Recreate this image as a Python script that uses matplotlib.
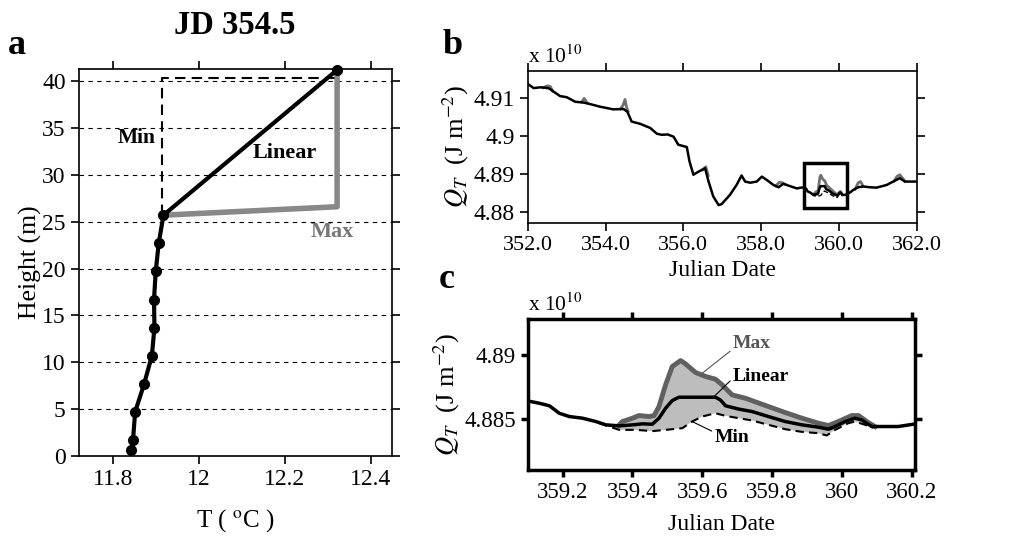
import numpy as np
import matplotlib
matplotlib.use('Agg')
import matplotlib.pyplot as plt
from matplotlib.patches import Rectangle
from matplotlib.ticker import FixedLocator, FuncFormatter

plt.rcParams['font.family'] = ['Liberation Serif', 'DejaVu Serif']
plt.rcParams['mathtext.fontset'] = 'stix'
plt.rcParams['font.size'] = 14

# temperature profile at JD 354.5
height = [0.6, 1.7, 4.7, 7.7, 10.7, 13.7, 16.7, 19.7, 22.7, 25.7, 41.2]
temp = [11.842, 11.846, 11.851, 11.872, 11.890, 11.896, 11.895, 11.899,
        11.906, 11.917, 12.322]
max_h = [25.7, 26.6, 41.2]
max_t = [11.917, 12.322, 12.322]
min_h = [25.7, 40.3, 40.3]
min_t = [11.914, 11.914, 12.322]

# heat content, linear interpolation (units of 1e10 J m-2)
jd_lin = [352.00, 352.15, 352.32, 352.45, 352.55, 352.66, 352.83, 353.00,
          353.22, 353.43, 353.60, 353.86, 354.20, 354.46, 354.56, 354.67,
          354.89, 355.15, 355.32, 355.45, 355.60, 355.75, 355.87, 356.05,
          356.09, 356.16, 356.26, 356.39, 356.56, 356.65, 356.77, 356.91,
          356.99, 357.20, 357.37, 357.50, 357.59, 357.72, 357.89, 358.02,
          358.15, 358.32, 358.45, 358.57, 358.66, 358.92,
          359.098, 359.133, 359.162, 359.190, 359.219, 359.257, 359.295,
          359.324, 359.362, 359.400, 359.429, 359.457, 359.476, 359.495,
          359.514, 359.533, 359.638, 359.652, 359.667, 359.705, 359.743,
          359.790, 359.838, 359.886, 359.933, 359.962, 359.981, 360.010,
          360.038, 360.057, 360.086, 360.124, 360.162, 360.205,
          360.30, 360.37, 360.50, 360.63, 360.80, 360.97, 361.23, 361.40,
          361.57, 361.70, 361.85, 362.00]
q_lin = [4.9136, 4.9125, 4.9127, 4.9126, 4.9124, 4.9116, 4.9104, 4.9101,
         4.9089, 4.9087, 4.9083, 4.9076, 4.9069, 4.9070, 4.9063, 4.9037,
         4.9031, 4.9020, 4.9005, 4.9002, 4.9003, 4.8997, 4.8976, 4.8971,
         4.8970, 4.8932, 4.8897, 4.8905, 4.8914, 4.8879, 4.8840, 4.8817,
         4.8820, 4.8844, 4.8870, 4.8895, 4.8879, 4.8876, 4.8879, 4.8892,
         4.8883, 4.8870, 4.8864, 4.8873, 4.8870, 4.8861,
         4.88641, 4.88622, 4.88602, 4.88544, 4.88518, 4.88505, 4.88479,
         4.88453, 4.88445, 4.88453, 4.88461, 4.88458, 4.88505, 4.88583,
         4.88643, 4.88669, 4.88669, 4.88648, 4.88602, 4.88576, 4.88557,
         4.88518, 4.88479, 4.88453, 4.88435, 4.88419, 4.88440, 4.88479,
         4.88505, 4.88492, 4.88440, 4.88440, 4.88440, 4.88458,
         4.8851, 4.8857, 4.8864, 4.8866, 4.8864, 4.8863, 4.8870, 4.8879,
         4.8888, 4.8879, 4.8879, 4.8879]

# upper bound (Max) where it leaves the linear curve; nan splits segments
jd_max = [352.40, 352.50, 352.58, 352.64, np.nan,
          353.38, 353.45, 353.52, np.nan,
          354.38, 354.45, 354.50, 354.54, 354.58, np.nan,
          356.50, 356.58, 356.64, np.nan,
          358.38, 358.47, 358.55, 358.62, np.nan,
          359.362, 359.371, 359.400, 359.419, 359.448, 359.462, 359.476,
          359.495, 359.514, 359.538, 359.552, 359.581, 359.610, 359.638,
          359.657, 359.686, 359.724, 359.790, 359.838, 359.886, 359.933,
          359.962, 359.990, 360.029, 360.048, 360.076, 360.095, np.nan,
          360.42, 360.50, 360.56, 360.62, np.nan,
          361.42, 361.50, 361.57, 361.64, 361.70]
q_max = [4.9126, 4.9131, 4.9129, 4.9117, np.nan,
         4.9088, 4.9098, 4.9087, np.nan,
         4.9070, 4.9080, 4.9095, 4.9075, 4.9064, np.nan,
         4.8910, 4.8918, 4.8895, np.nan,
         4.8868, 4.8877, 4.8876, 4.8872, np.nan,
         4.88453, 4.88479, 4.88505, 4.88526, 4.88518, 4.88526, 4.88596,
         4.88766, 4.88909, 4.88956, 4.88930, 4.88862, 4.88831, 4.88810,
         4.88766, 4.88687, 4.88661, 4.88596, 4.88549, 4.88505, 4.88466,
         4.88448, 4.88479, 4.88526, 4.88526, 4.88471, 4.88440, np.nan,
         4.8859, 4.8876, 4.8879, 4.8868, np.nan,
         4.8880, 4.8893, 4.8897, 4.8888, 4.8880]

# lower bound (Min)
jd_min = [359.305, 359.362, 359.410, 359.457, 359.514, 359.543, 359.571,
          359.600, 359.638, 359.667, 359.705, 359.743, 359.790, 359.838,
          359.886, 359.933, 359.957, 359.981, 360.019, 360.038, 360.067,
          360.090]
q_min = [4.88466, 4.88414, 4.88414, 4.88404, 4.88419, 4.88427, 4.88479,
         4.88518, 4.88544, 4.88523, 4.88505, 4.88487, 4.88453, 4.88419,
         4.88398, 4.88388, 4.88370, 4.88414, 4.88466, 4.88479, 4.88453,
         4.88430]

zoom_xlim = (359.1, 360.21)
zoom_ylim = (4.881, 4.8928)

fig = plt.figure(figsize=(10.15, 5.39), dpi=100)
ax_a = fig.add_axes([0.0778, 0.154, 0.3084, 0.718])
ax_b = fig.add_axes([0.520, 0.587, 0.383, 0.282])
ax_c = fig.add_axes([0.520, 0.128, 0.3815, 0.280])

fmt_g = FuncFormatter(lambda v, p: '{:g}'.format(round(v, 4)))


def style_axes(ax, lw, xsize, ysize, tick_len=6):
    for s in ax.spines.values():
        s.set_linewidth(lw)
    ax.tick_params(direction='out', length=tick_len, width=lw,
                   top=True, right=True)
    ax.tick_params(axis='x', labelsize=xsize)
    ax.tick_params(axis='y', labelsize=ysize)


# ---- a: profile
for y in range(5, 45, 5):
    ax_a.axhline(y, color='k', lw=0.8, ls=(0, (4, 4)), zorder=0)
ax_a.plot(min_t, min_h, color='k', lw=1.5, ls=(0, (5, 3)))
ax_a.plot(max_t, max_h, color='#888888', lw=4, solid_capstyle='butt')
ax_a.plot(temp, height, color='k', lw=3, marker='o', ms=7, clip_on=False)
ax_a.set_xlim(11.72, 12.45)
ax_a.set_ylim(0, 41.3)
ax_a.xaxis.set_major_locator(FixedLocator([11.8, 12.0, 12.2, 12.4]))
ax_a.yaxis.set_major_locator(FixedLocator(range(0, 45, 5)))
ax_a.xaxis.set_major_formatter(fmt_g)
style_axes(ax_a, 1.2, 17, 17)
ax_a.set_xlabel('T ( $^{\\rm o}$C )', fontsize=18, labelpad=12)
ax_a.set_ylabel('Height (m)', fontsize=18.5, labelpad=0)
ax_a.text(11.855, 33.9, 'Min', fontsize=15.5, fontweight='bold', ha='center', va='center')
ax_a.text(12.20, 32.3, 'Linear', fontsize=16, fontweight='bold', ha='center', va='center')
ax_a.text(12.31, 23.9, 'Max', fontsize=16, fontweight='bold', color='#777777',
          ha='center', va='center')

# ---- b: full record
ax_b.plot(jd_max, q_max, color='#707070', lw=2)
ax_b.plot(jd_min, q_min, color='k', lw=1, ls='--')
ax_b.plot(jd_lin, q_lin, color='k', lw=1.8)
ax_b.add_patch(Rectangle((zoom_xlim[0], zoom_ylim[0]), zoom_xlim[1] - zoom_xlim[0],
                         zoom_ylim[1] - zoom_ylim[0], fill=False, lw=2.5,
                         ec='k', zorder=5))
ax_b.set_xlim(352, 362)
ax_b.set_ylim(4.8771, 4.9171)
ax_b.xaxis.set_major_locator(FixedLocator([352, 354, 356, 358, 360, 362]))
ax_b.xaxis.set_major_formatter(FuncFormatter(lambda v, p: '%.1f' % v))
ax_b.yaxis.set_major_locator(FixedLocator([4.88, 4.89, 4.90, 4.91]))
ax_b.yaxis.set_major_formatter(fmt_g)
style_axes(ax_b, 1.2, 16, 17)
ax_b.set_xlabel('Julian Date', fontsize=17, labelpad=4)
ax_b.set_ylabel('$Q_T$  (J m$^{-2}$)', fontsize=19, labelpad=2)
ax_b.text(0.0, 1.02, 'x 10$^{10}$', transform=ax_b.transAxes, fontsize=15.5,
          ha='left', va='bottom')

# ---- c: zoom on 359.1-360.2
poly_x = np.r_[jd_max[24:51], jd_min[::-1]]
poly_y = np.r_[q_max[24:51], q_min[::-1]]
ax_c.fill(poly_x, poly_y, color='#bdbdbd', lw=0)
ax_c.plot(jd_max, q_max, color='#606060', lw=3.5)
ax_c.plot(jd_min, q_min, color='k', lw=1.5, ls=(0, (4, 2.5)))
ax_c.plot(jd_lin, q_lin, color='k', lw=2.5)
ax_c.set_xlim(*zoom_xlim)
ax_c.set_ylim(*zoom_ylim)
ax_c.xaxis.set_major_locator(FixedLocator([359.2, 359.4, 359.6, 359.8, 360.0, 360.2]))
ax_c.xaxis.set_major_formatter(fmt_g)
ax_c.yaxis.set_major_locator(FixedLocator([4.885, 4.89]))
ax_c.yaxis.set_major_formatter(fmt_g)
style_axes(ax_c, 2.5, 16.5, 16.5, tick_len=5)
ax_c.set_xlabel('Julian Date', fontsize=17, labelpad=8)
ax_c.set_ylabel('$Q_T$  (J m$^{-2}$)', fontsize=19, labelpad=2)
ax_c.text(0.0, 1.02, 'x 10$^{10}$', transform=ax_c.transAxes, fontsize=15.5,
          ha='left', va='bottom')

lead = dict(arrowstyle='-', lw=0.8, shrinkA=0, shrinkB=0)
ax_c.annotate('Max', xy=(359.600, 4.88857), xytext=(359.688, 4.89086),
              fontsize=14, fontweight='bold', color='#555555', ha='left', va='center',
              arrowprops=dict(lead, color='#555555', relpos=(0, 0.2)))
ax_c.annotate('Linear', xy=(359.629, 4.88661), xytext=(359.688, 4.88831),
              fontsize=14, fontweight='bold', ha='left', va='center',
              arrowprops=dict(lead, color='k', relpos=(0, 0.4)))
ax_c.annotate('Min', xy=(359.571, 4.88479), xytext=(359.635, 4.88354),
              fontsize=14, fontweight='bold', ha='left', va='center',
              arrowprops=dict(lead, color='k', relpos=(0, 0.8)))

# titles and panel letters
fig.text(235 / 1015, 1 - 25 / 539, 'JD 354.5', fontsize=23.5, fontweight='bold',
         ha='center', va='center')
fig.text(17 / 1015, 1 - 45 / 539, 'a', fontsize=26, fontweight='bold', ha='center', va='center')
fig.text(453 / 1015, 1 - 45 / 539, 'b', fontsize=26, fontweight='bold', ha='center', va='center')
fig.text(447 / 1015, 1 - 279 / 539, 'c', fontsize=26, fontweight='bold', ha='center', va='center')

fig.savefig('out.png', dpi=100)
